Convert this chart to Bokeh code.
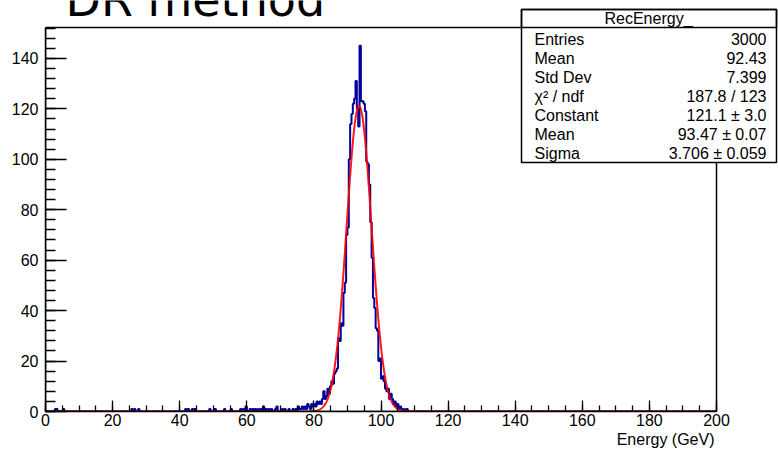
import numpy as np
from bokeh.plotting import figure
from bokeh.models import Range1d, Label, BoxAnnotation, SingleIntervalTicker, Title
from bokeh.embed import file_html
from bokeh.resources import INLINE

# ---------------- data ----------------
bin_width = 0.4
x_min, x_max = 0.0, 200.0
y_max = 152.25

# sparse low-energy tail (bin lower edges, GeV) and counts
tail_edges = [2.8, 3.2, 5.2, 25.6, 26.4, 27.6, 41.6, 42.4, 43.6, 44.4, 48.8, 50.4,
              53.2, 55.2, 58.0, 58.8, 59.6, 60.8, 61.6, 62.4, 63.2, 64.0, 64.8,
              65.6, 66.4, 67.2, 68.4, 68.8, 70.4, 71.2, 72.4, 73.6, 74.4, 75.2, 75.6]
tail_counts = [1, 1, 1, 1, 1, 1, 1, 1, 1, 1, 1, 1,
               1, 1, 1, 1, 2, 1, 1, 1, 1, 1, 2,
               1, 1, 1, 1, 2, 1, 1, 1, 1, 1, 2, 1]

# dense peak region, consecutive 0.4 GeV bins starting at 76.0 GeV
peak_start = 76.0
peak_counts = [1, 2, 1, 2, 1, 3, 2, 1, 3, 2,
               3, 2, 4, 3, 4,
               3, 5, 8, 5, 6,
               9, 7, 10, 12, 11,
               15, 16, 17, 29, 28,
               35, 34, 47, 51, 70,
               73, 100, 114, 118, 122,
               124, 131, 120, 113, 145,
               123, 123, 122, 119, 99,
               98, 90, 75, 61, 45,
               41, 33, 32, 20, 21,
               13, 14, 12, 9, 8,
               9, 5, 7, 5, 3,
               4, 2, 3, 1, 2,
               1, 0, 1, 0, 1]

# Gaussian fit parameters (from the stats box)
fit_constant = 121.1
fit_mean = 93.47
fit_sigma = 3.706

stats_title = "RecEnergy_"
stats_names = ["Entries", "Mean", "Std Dev", "\u03c7\u00b2 / ndf", "Constant", "Mean", "Sigma"]
stats_values = ["3000", "92.43", "7.399", "187.8 / 123", "121.1 \u00b1 3.0",
                "93.47 \u00b1 0.07", "3.706 \u00b1 0.059"]

# ---------------- histogram assembly ----------------
nbins = int(round((x_max - x_min) / bin_width))
edges = np.linspace(x_min, x_max, nbins + 1)
counts = np.zeros(nbins)
for e, c in zip(tail_edges, tail_counts):
    counts[int(round((e - x_min) / bin_width))] = c
i0 = int(round((peak_start - x_min) / bin_width))
counts[i0:i0 + len(peak_counts)] = peak_counts

hx = np.repeat(edges, 2)[1:-1]
hy = np.repeat(counts, 2)

fx = np.linspace(x_min, x_max, 2001)
fy = fit_constant * np.exp(-0.5 * ((fx - fit_mean) / fit_sigma) ** 2)

# ---------------- layout geometry (pixels) ----------------
W, H = 778, 450
AX_L, AX_R, AX_T, AX_B = 45, 716, 27, 411   # visible axes box
frame_w = W - AX_L
frame_h = AX_B
x_end = x_min + (x_max - x_min) * frame_w / (AX_R - AX_L)
y_end = y_max * frame_h / (AX_B - AX_T)

FONT = "Liberation Sans"
p = figure(width=W, height=H, output_backend="svg", toolbar_location=None,
           x_range=Range1d(x_min, x_end), y_range=Range1d(0, y_end),
           min_border_left=AX_L, min_border_right=0, min_border_top=0,
           min_border_bottom=H - AX_B)
p.title.visible = False
p.xgrid.visible = False
p.ygrid.visible = False
p.background_fill_color = "white"
p.border_fill_color = "white"
p.outline_line_color = None

p.line(hx, hy, line_color="#000099", line_width=2)
p.line(fx, fy, line_color="#ff0000", line_width=2, line_alpha=0.9)

p.xaxis.ticker = SingleIntervalTicker(interval=20, num_minor_ticks=4)
p.yaxis.ticker = SingleIntervalTicker(interval=20, num_minor_ticks=5)
p.xaxis.bounds = (x_min, x_max)
p.yaxis.bounds = (0, y_max)
for ax in (p.xaxis[0], p.yaxis[0]):
    ax.axis_line_color = "black"
    ax.axis_line_width = 1.5
    ax.major_tick_out = 0
    ax.minor_tick_out = 0
    ax.major_tick_line_color = "black"
    ax.minor_tick_line_color = "black"
    ax.major_tick_line_width = 1.3
    ax.minor_tick_line_width = 1.3
    ax.major_label_text_font = FONT
    ax.major_label_text_font_size = "16px"
    ax.major_label_text_color = "black"
p.xaxis.major_tick_in = 11
p.xaxis.minor_tick_in = 6
p.yaxis.major_tick_in = 21
p.yaxis.minor_tick_in = 10
p.xaxis.major_label_standoff = 2
p.yaxis.major_label_standoff = 7

# axis title, right aligned under the axis
p.add_layout(Title(text="Energy (GeV)", align="right", offset=W - AX_R + 2,
                   standoff=0, text_font=FONT, text_font_size="16px",
                   text_font_style="normal", text_color="black"), "below")

# frame box of the axes
p.add_layout(BoxAnnotation(left=x_min, right=x_max, bottom=0, top=y_max,
                           fill_alpha=0, line_color="black", line_width=1.5,
                           line_alpha=1.0))

# cut-off slide title
p.add_layout(Label(x=20, y=412, x_units="screen", y_units="screen",
                   text="DR method", text_align="left", text_baseline="alphabetic",
                   text_font="DejaVu Sans", text_font_size="46px", text_color="black"))

# stats box
p.add_layout(BoxAnnotation(left=476, right=731, top=402, bottom=249,
                           left_units="screen", right_units="screen",
                           top_units="screen", bottom_units="screen",
                           fill_color="white", fill_alpha=1.0,
                           line_color="black", line_width=1.5, line_alpha=1.0))
p.add_layout(BoxAnnotation(left=476, right=731, top=402, bottom=384,
                           left_units="screen", right_units="screen",
                           top_units="screen", bottom_units="screen",
                           fill_alpha=0,
                           line_color="black", line_width=1.5, line_alpha=1.0))
p.add_layout(Label(x=603, y=393, x_units="screen", y_units="screen",
                   text=stats_title, text_align="center", text_baseline="middle",
                   text_font=FONT, text_font_size="16px", text_color="black"))
for k, (nm, vl) in enumerate(zip(stats_names, stats_values)):
    yc = 411 - (38.5 + 19 * k)
    p.add_layout(Label(x=489, y=yc, x_units="screen", y_units="screen",
                       text=nm, text_align="left", text_baseline="middle",
                       text_font=FONT, text_font_size="16px", text_color="black"))
    p.add_layout(Label(x=721, y=yc, x_units="screen", y_units="screen",
                       text=vl, text_align="right", text_baseline="middle",
                       text_font=FONT, text_font_size="16px", text_color="black"))

open("out.html", "w").write(file_html(p, INLINE))
